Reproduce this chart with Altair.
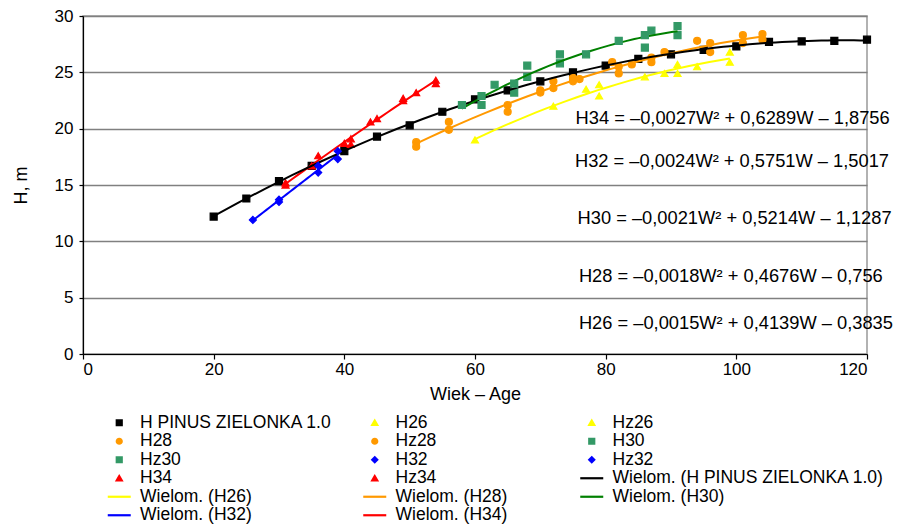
import altair as alt
import pandas as pd

FONT = "Liberation Sans"

# ---------------- data ----------------
pinus_age = [20, 25, 30, 35, 40, 45, 50, 55, 60, 65, 70, 75, 80, 85, 90, 95, 100, 105, 110, 115, 120]
pinus_h = [12.2, 13.8, 15.35, 16.7, 18.0, 19.3, 20.3, 21.5, 22.6, 23.4, 24.2, 25.0, 25.6, 26.2,
           26.6, 27.0, 27.3, 27.7, 27.75, 27.8, 27.9]

h26_age = [60, 72, 79, 89, 94, 99]
h26_h = [19.0, 22.0, 22.9, 24.9, 25.5, 25.9]
hz26_age = [77, 79, 86, 91, 91, 99]
hz26_h = [23.5, 23.9, 24.6, 25.7, 24.9, 26.8]

h28_age = [51, 56, 65, 70, 72, 75, 81, 82, 87, 89, 94, 96, 101, 104]
h28_h = [18.8, 20.6, 22.1, 23.4, 24.2, 24.5, 25.9, 25.5, 26.3, 26.8, 27.8, 27.6, 28.3, 28.4]
hz28_age = [51, 56, 65, 70, 72, 75, 76, 82, 84, 87, 96, 101, 104]
hz28_h = [18.4, 19.9, 21.5, 23.2, 23.6, 24.2, 24.4, 24.9, 25.7, 25.9, 26.8, 27.6, 27.9]

h30_age = [58, 61, 63, 66, 68, 73, 77, 82, 86, 91]
h30_h = [22.1, 22.9, 23.9, 24.0, 25.6, 26.6, 26.6, 27.8, 28.3, 29.1]
hz30_age = [61, 66, 68, 73, 86, 87, 91]
hz30_h = [22.1, 23.2, 24.6, 25.8, 27.2, 28.7, 28.3]

h32_age = [26, 30, 36, 39]
h32_h = [11.9, 13.5, 16.1, 17.3]
hz32_age = [30, 36, 39]
hz32_h = [13.7, 16.7, 18.0]

h34_age = [31, 36, 41, 45, 49, 54]
h34_h = [15.0, 17.6, 19.1, 20.9, 22.7, 24.0]
hz34_age = [31, 35, 40, 41, 44, 49, 51, 54]
hz34_h = [15.2, 16.7, 18.7, 18.6, 20.6, 22.5, 23.2, 24.3]

eq_text = [
    "H34 = \u20130,0027W\u00b2 + 0,6289W \u2013 1,8756",
    "H32 = \u20130,0024W\u00b2 + 0,5751W \u2013 1,5017",
    "H30 = \u20130,0021W\u00b2 + 0,5214W \u2013 1,1287",
    "H28 = \u20130,0018W\u00b2 + 0,4676W \u2013 0,756",
    "H26 = \u20130,0015W\u00b2 + 0,4139W \u2013 0,3835",
]
eq_age = [75.4, 75.3, 75.7, 75.9, 75.9]
eq_h = [20.9, 17.0, 12.0, 6.85, 2.7]

PINUS = "H PINUS ZIELONKA 1.0"
series_data = [
    (PINUS, PINUS, pinus_age, pinus_h),
    ("H26", "H26", h26_age, h26_h),
    ("Hz26", "H26", hz26_age, hz26_h),
    ("H28", "H28", h28_age, h28_h),
    ("Hz28", "H28", hz28_age, hz28_h),
    ("H30", "H30", h30_age, h30_h),
    ("Hz30", "H30", hz30_age, hz30_h),
    ("H32", "H32", h32_age, h32_h),
    ("Hz32", "H32", hz32_age, hz32_h),
    ("H34", "H34", h34_age, h34_h),
    ("Hz34", "H34", hz34_age, hz34_h),
]
rows = []
for name, fit, ages, hs in series_data:
    for a, h in zip(ages, hs):
        rows.append({"series": name, "fit": fit, "age": a, "h": h})
df = pd.DataFrame(rows)
eq_df = pd.DataFrame({"label": eq_text, "age": eq_age, "h": eq_h})

legend_order = [PINUS, "H26", "Hz26", "H28", "Hz28", "H30", "Hz30", "H32", "Hz32", "H34", "Hz34",
                "Wielom. (" + PINUS + ")", "Wielom. (H26)", "Wielom. (H28)", "Wielom. (H30)",
                "Wielom. (H32)", "Wielom. (H34)"]
colors = {
    PINUS: "#000000", "H26": "#FFFF00", "Hz26": "#FFFF00", "H28": "#FF9900", "Hz28": "#FF9900",
    "H30": "#339966", "Hz30": "#339966", "H32": "#0000FF", "Hz32": "#0000FF",
    "H34": "#FF0000", "Hz34": "#FF0000",
    "Wielom. (" + PINUS + ")": "#000000", "Wielom. (H26)": "#FFFF00", "Wielom. (H28)": "#FF9900",
    "Wielom. (H30)": "#008000", "Wielom. (H32)": "#0000FF", "Wielom. (H34)": "#FF0000",
}
LINE_SYMBOL = "M-4.6,0H4.6"
shapes = {
    PINUS: "square", "H26": "triangle-up", "Hz26": "triangle-up", "H28": "circle", "Hz28": "circle",
    "H30": "square", "Hz30": "square", "H32": "diamond", "Hz32": "diamond",
    "H34": "triangle-up", "Hz34": "triangle-up",
}
for k in legend_order:
    if k.startswith("Wielom"):
        shapes[k] = LINE_SYMBOL

# legend column placement (pixels relative to plot origin)
legend_x = [27.5, 283, 500]
legend_y = 398

X = alt.X("age:Q", scale=alt.Scale(domain=[0, 120], nice=False), title="Wiek \u2013 Age",
          axis=alt.Axis(values=list(range(0, 121, 20))))
Y = alt.Y("h:Q", scale=alt.Scale(domain=[0, 30], nice=False), title="H, m",
          axis=alt.Axis(values=list(range(0, 31, 5))))

col_layers = []
for c in range(3):
    items = legend_order[c::3]
    pts = [s for s in items if not s.startswith("Wielom")]
    fits = [s[len("Wielom. ("):-1] for s in items if s.startswith("Wielom")]
    leg = alt.Legend(
        title=None, orient="none", legendX=legend_x[c], legendY=legend_y,
        labelFont=FONT, labelFontSize=17.5, labelColor="black", labelLimit=400,
        labelOffset=12, rowPadding=-0.5, padding=0, symbolSize=25, symbolStrokeWidth=2.2,
        symbolOpacity=1,
    )
    cscale = alt.Scale(domain=items, range=[colors[k] for k in items])
    fscale = alt.Scale(domain=items, range=[colors[k] for k in items])
    sscale = alt.Scale(domain=items, range=[shapes[k] for k in items])
    layers = []
    if fits:
        lines = (
            alt.Chart(df)
            .transform_filter(alt.FieldOneOfPredicate(field="fit", oneOf=fits))
            .transform_regression("age", "h", groupby=["fit"], method="poly", order=2)
            .transform_calculate(series="'Wielom. (' + datum.fit + ')'")
            .mark_line(strokeWidth=2)
            .encode(x=X, y=Y, color=alt.Color("series:N", scale=cscale, legend=leg))
        )
        layers.append(lines)
    points = (
        alt.Chart(df)
        .transform_filter(alt.FieldOneOfPredicate(field="series", oneOf=pts))
        .mark_point(filled=False, opacity=1, fillOpacity=1, size=49, strokeWidth=1.2)
        .encode(x=X, y=Y,
                color=alt.Color("series:N", scale=cscale, legend=leg),
                fill=alt.Fill("series:N", scale=fscale, legend=leg),
                shape=alt.Shape("series:N", scale=sscale, legend=leg))
    )
    layers.append(points)
    col_layers.append(alt.layer(*layers))

eqs = (
    alt.Chart(eq_df)
    .mark_text(align="left", baseline="middle", fontSize=18.3, font=FONT, color="black")
    .encode(x=X, y=Y, text="label:N")
)

chart = (
    alt.layer(*col_layers, eqs)
    .resolve_scale(color="independent", shape="independent", fill="independent")
    .properties(
        width=784, height=338,
        autosize=alt.AutoSizeParams(type="none"),
        padding={"left": 75, "top": 8, "right": 29, "bottom": 170},
        background="white",
    )
    .configure(font=FONT)
    .configure_view(stroke="#999999", strokeWidth=1.5)
    .configure_axis(
        labelFont=FONT, labelFontSize=17, labelColor="black",
        titleFont=FONT, titleFontSize=18, titleFontWeight="normal", titleColor="black",
        domainColor="black", domainWidth=1.2, tickColor="black", tickWidth=1.2,
    )
    .configure_axisX(grid=False, tickSize=5, labelPadding=2, titlePadding=8)
    .configure_axisY(grid=True, gridColor="#808080", gridWidth=1.3, tickSize=4,
                     labelPadding=6, titlePadding=24)
)

chart.save("out.html", embed_options={"renderer": "svg", "actions": False})
